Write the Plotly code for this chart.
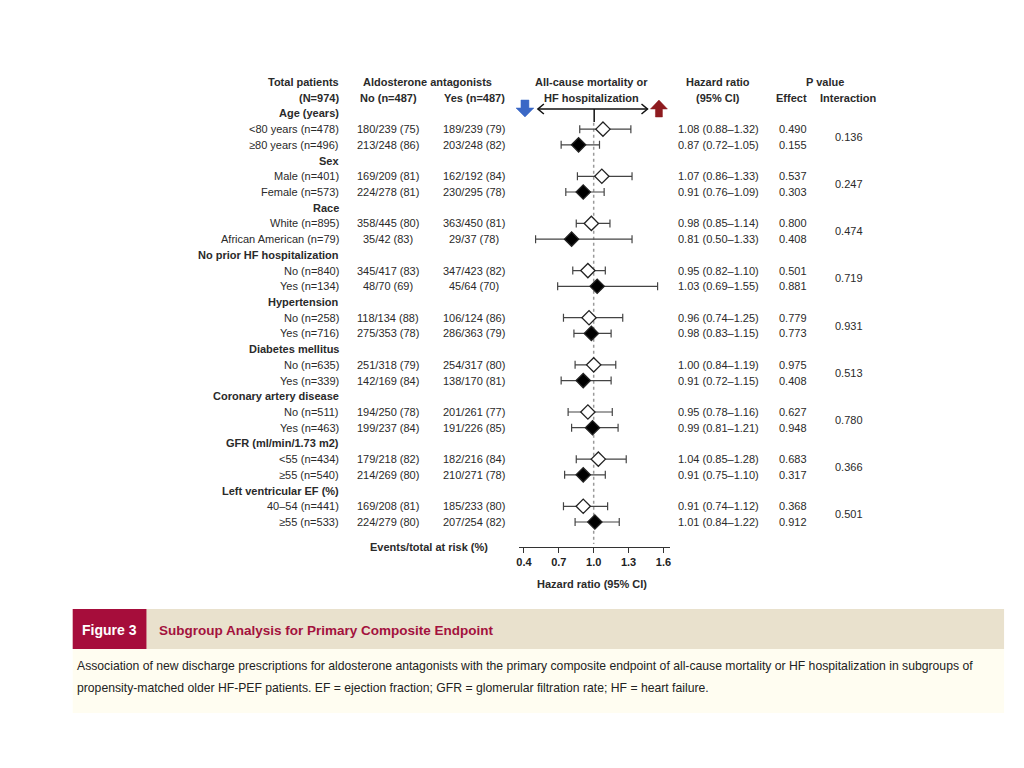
import plotly.graph_objects as go

# ---------------- data ----------------
groups = ["Age (years)", "Sex", "Race", "No prior HF hospitalization", "Hypertension",
          "Diabetes mellitus", "Coronary artery disease", "GFR (ml/min/1.73 m2)",
          "Left ventricular EF (%)"]
subgroups = ["<80 years (n=478)", "≥80 years (n=496)",
             "Male (n=401)", "Female (n=573)",
             "White (n=895)", "African American (n=79)",
             "No (n=840)", "Yes (n=134)",
             "No (n=258)", "Yes (n=716)",
             "No (n=635)", "Yes (n=339)",
             "No (n=511)", "Yes (n=463)",
             "<55 (n=434)", "≥55 (n=540)",
             "40–54 (n=441)", "≥55 (n=533)"]
no_events = ["180/239 (75)", "213/248 (86)", "169/209 (81)", "224/278 (81)",
             "358/445 (80)", "35/42 (83)", "345/417 (83)", "48/70 (69)",
             "118/134 (88)", "275/353 (78)", "251/318 (79)", "142/169 (84)",
             "194/250 (78)", "199/237 (84)", "179/218 (82)", "214/269 (80)",
             "169/208 (81)", "224/279 (80)"]
yes_events = ["189/239 (79)", "203/248 (82)", "162/192 (84)", "230/295 (78)",
              "363/450 (81)", "29/37 (78)", "347/423 (82)", "45/64 (70)",
              "106/124 (86)", "286/363 (79)", "254/317 (80)", "138/170 (81)",
              "201/261 (77)", "191/226 (85)", "182/216 (84)", "210/271 (78)",
              "185/233 (80)", "207/254 (82)"]
hr = [1.08, 0.87, 1.07, 0.91, 0.98, 0.81, 0.95, 1.03, 0.96, 0.98,
      1.00, 0.91, 0.95, 0.99, 1.04, 0.91, 0.91, 1.01]
lo = [0.88, 0.72, 0.86, 0.76, 0.85, 0.50, 0.82, 0.69, 0.74, 0.83,
      0.84, 0.72, 0.78, 0.81, 0.85, 0.75, 0.74, 0.84]
hi = [1.32, 1.05, 1.33, 1.09, 1.14, 1.33, 1.10, 1.55, 1.25, 1.15,
      1.19, 1.15, 1.16, 1.21, 1.28, 1.10, 1.12, 1.22]
p_effect = ["0.490", "0.155", "0.537", "0.303", "0.800", "0.408", "0.501", "0.881",
            "0.779", "0.773", "0.975", "0.408", "0.627", "0.948", "0.683", "0.317",
            "0.368", "0.912"]
p_interaction = ["0.136", "0.247", "0.474", "0.719", "0.931", "0.513", "0.780",
                 "0.366", "0.501"]
hr_ticks = [0.4, 0.7, 1.0, 1.3, 1.6]

W, H = 1024, 768
FONT = "Liberation Sans, Arial, sans-serif"
TXT = "#2a2a2a"


def px(x):
    return x / W


def py(y):
    return 1 - y / H


# rows: 0,1 header; group g header at 2+3g, subgroups at 3+3g, 4+3g
sub_rows = []
for g in range(len(groups)):
    sub_rows += [3 + 3 * g, 4 + 3 * g]

first_idx = list(range(0, len(hr), 2))
second_idx = list(range(1, len(hr), 2))

fig = go.Figure()


def add_points(idx, fill):
    fig.add_trace(go.Scatter(
        x=[hr[i] for i in idx],
        y=[sub_rows[i] for i in idx],
        mode="markers",
        marker=dict(symbol="diamond", size=11, color=fill,
                    line=dict(color="#222222", width=1.3)),
        error_x=dict(type="data", symmetric=False,
                     array=[hi[i] - hr[i] for i in idx],
                     arrayminus=[hr[i] - lo[i] for i in idx],
                     color="#444444", thickness=1.2, width=4),
        cliponaxis=False, showlegend=False, hoverinfo="skip"))


add_points(first_idx, "white")
add_points(second_idx, "black")

ann = []


def T(text, x, y, anchor="center", bold=False, size=11, color=TXT, yref="y", xref="paper"):
    ann.append(dict(text=f"<b>{text}</b>" if bold else text, x=x, y=y, xref=xref, yref=yref,
                    xanchor=anchor, yanchor="middle", showarrow=False,
                    font=dict(family=FONT, size=size, color=color)))


# header
T("Total patients", px(339), 0, "right", True)
T("(N=974)", px(339), 1, "right", True)
T("Aldosterone antagonists", px(426), 0, "center", True)
T("No (n=487)", px(387), 1, "center", True)
T("Yes (n=487)", px(473), 1, "center", True)
T("All-cause mortality or", px(591), 0, "center", True)
T("HF hospitalization", px(591), 1, "center", True)
T("Hazard ratio", px(718), 0, "center", True)
T("(95% CI)", px(718), 1, "center", True)
T("P value", px(825), 0, "center", True)
T("Effect", px(792), 1, "center", True)
T("Interaction", px(849), 1, "center", True)

for g, name in enumerate(groups):
    T(name, px(339), 2 + 3 * g, "right", True)
    T(p_interaction[g], px(849), 3.5 + 3 * g, "center")

for i, r in enumerate(sub_rows):
    T(subgroups[i], px(339), r, "right")
    T(no_events[i], px(387), r, "center")
    T(yes_events[i], px(473), r, "center")
    T(f"{hr[i]:.2f} ({lo[i]:.2f}–{hi[i]:.2f})", px(718), r, "center")
    T(p_effect[i], px(793), r, "center")

T("Events/total at risk (%)", px(428), py(547), "center", True, yref="paper")
T("Hazard ratio (95% CI)", px(591), py(584), "center", True, yref="paper")

# caption
T("Figure 3", px(107), py(630), "center", True, size=14, color="white", yref="paper")
T("Subgroup Analysis for Primary Composite Endpoint", px(155), py(630), "left", True,
  size=13.5, color="#a3123d", yref="paper")
T("Association of new discharge prescriptions for aldosterone antagonists with the primary "
  "composite endpoint of all-cause mortality or HF hospitalization in subgroups of",
  px(72), py(666), "left", size=12.2, color="#222", yref="paper")
T("propensity-matched older HF-PEF patients. EF = ejection fraction; GFR = glomerular "
  "filtration rate; HF = heart failure.",
  px(72), py(688), "left", size=12.2, color="#222", yref="paper")

shapes = []
# reference dotted line at HR = 1
shapes.append(dict(type="line", xref="x", yref="y", x0=1.0, x1=1.0, y0=2.6, y1=29.4,
                   layer="below", line=dict(color="#9a9a9a", width=1.5, dash="dot")))


def P(pts):
    return "M " + " L ".join(f"{px(a):.5f},{py(b):.5f}" for a, b in pts)


# double arrow header
shapes.append(dict(type="line", xref="paper", yref="paper", x0=px(537), x1=px(647),
                   y0=py(109), y1=py(109), line=dict(color="#111", width=1.5)))
shapes.append(dict(type="line", xref="paper", yref="paper", x0=px(593.5), x1=px(593.5),
                   y0=py(109), y1=py(122), line=dict(color="#111", width=1.5)))
shapes.append(dict(type="path", xref="paper", yref="paper",
                   path=P([(543, 104), (537, 109), (543, 114)]),
                   line=dict(color="#111", width=1.5)))
shapes.append(dict(type="path", xref="paper", yref="paper",
                   path=P([(641, 104), (647, 109), (641, 114)]),
                   line=dict(color="#111", width=1.5)))
# blue down arrow
shapes.append(dict(type="path", xref="paper", yref="paper",
                   path=P([(520, 100), (528, 100), (528, 108), (533, 108), (524, 117),
                           (515, 108), (520, 108)]) + " Z",
                   fillcolor="#3b68c6", line=dict(color="#3b68c6", width=0.5)))
# red up arrow
shapes.append(dict(type="path", xref="paper", yref="paper",
                   path=P([(655, 117), (662, 117), (662, 109), (667, 109), (658.5, 100),
                           (650, 109), (655, 109)]) + " Z",
                   fillcolor="#8e1b1f", line=dict(color="#8e1b1f", width=0.5)))
# caption band
shapes.append(dict(type="rect", xref="paper", yref="paper", x0=px(70), x1=px(1005),
                   y0=py(649), y1=py(609), fillcolor="#e9e1cd", line=dict(width=0),
                   layer="below"))
shapes.append(dict(type="rect", xref="paper", yref="paper", x0=px(70), x1=px(144),
                   y0=py(649), y1=py(609), fillcolor="#a60d3b", line=dict(width=0),
                   layer="below"))
shapes.append(dict(type="rect", xref="paper", yref="paper", x0=px(70), x1=px(1005),
                   y0=py(713), y1=py(649), fillcolor="#fffdf1", line=dict(width=0),
                   layer="below"))

# axis geometry: 0.4 -> 523px, 1.6 -> 663px
scale = (663 - 523) / 1.2
x_lo = 0.4 - (523 - 518) / scale
x_hi = 1.6 + (670 - 663) / scale
r_bottom = (547 - 82) / ((522 - 82) / 28)
r_top = (75 - 82) / ((522 - 82) / 28)

fig.update_layout(
    width=W, height=H, margin=dict(l=0, r=0, t=0, b=0),
    paper_bgcolor="white", plot_bgcolor="rgba(0,0,0,0)",
    xaxis=dict(domain=[px(518), px(670)], range=[x_lo, x_hi], tickvals=hr_ticks,
               ticktext=[f"{v:.1f}" for v in hr_ticks], showline=True, linecolor="#333",
               linewidth=1.2, ticks="outside", ticklen=5, tickcolor="#333", tickwidth=1.2,
               showgrid=False, zeroline=False, fixedrange=True,
               tickfont=dict(family=FONT, size=11, color="#222", weight="bold")),
    yaxis=dict(domain=[py(547), py(75)], range=[r_bottom, r_top], visible=False,
               showgrid=False, zeroline=False, fixedrange=True),
    annotations=ann, shapes=shapes, showlegend=False,
)

fig.write_html("out.html", config={"displayModeBar": False},
               post_script="document.body.style.margin='0';document.body.style.overflow='hidden';")
